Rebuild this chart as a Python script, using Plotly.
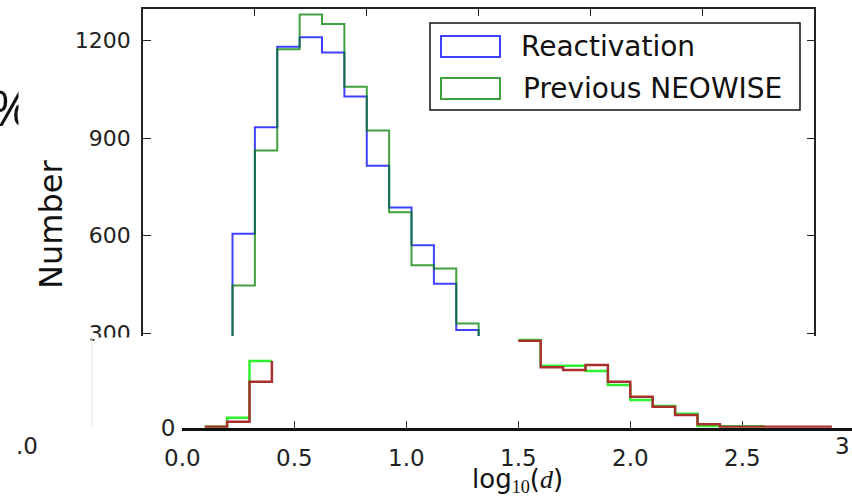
import plotly.graph_objects as go

W, H = 852, 497

def px(x):
    return x / W

def py(y):
    return 1 - y / H

# ---------------- data ----------------
# upper histogram (bin width 0.1), visible bins only (values below ~300 are cut off)
top_edges = [0.4, 0.5, 0.6, 0.7, 0.8, 0.9, 1.0, 1.1, 1.2, 1.3, 1.4, 1.5]
reactivation = [606, 933, 1181, 1210, 1163, 1028, 815, 687, 571, 452, 310]
previous_neowise = [447, 862, 1173, 1280, 1251, 1058, 923, 672, 509, 499, 330]

# lower strip histogram (arbitrary count units), two visible pieces
strip_left_edges = [0.1, 0.2, 0.3, 0.4]
strip_green_left = [1.0, 10.9, 72.7]
strip_red_left = [1.0, 6.5, 50.2]

strip_green_right_edges = [1.5, 1.6, 1.7, 1.8, 1.9, 2.0, 2.1, 2.2, 2.3, 2.4, 2.5, 2.6]
strip_green_right = [95.6, 67.6, 67.6, 61.8, 46.6, 30.2, 23.7, 15.3, 1.9, 1.5, 1.5]
strip_red_right_edges = [1.5, 1.6, 1.7, 1.8, 1.9, 2.0, 2.1, 2.2, 2.3, 2.4, 2.5, 2.6, 2.7, 2.8, 2.9]
strip_red_right = [94.9, 65.9, 62.9, 68.4, 50.2, 33.8, 22.9, 13.8, 3.7, 1.0, 1.0, 1.0, 1.0, 1.0]

top_yticks = [300, 600, 900, 1200]
strip_xticks = [0.0, 0.5, 1.0, 1.5, 2.0, 2.5]
strip_xtick_text = ["0.0", "0.5", "1.0", "1.5", "2.0", "2.5"]

BLUE = "rgba(0,0,255,0.75)"
GREEN = "rgba(0,128,0,0.75)"
LIME = "#2ef02e"
RED = "#a8302e"
FONT = "DejaVu Sans"

fig = go.Figure()

def step_trace(edges, vals, color, width, xa, ya, start0=True, end0=True):
    xs = list(edges)
    ys = list(vals) + [vals[-1]]
    if start0:
        xs = [edges[0]] + xs
        ys = [0] + ys
    if end0:
        xs = xs + [edges[-1]]
        ys = ys + [0]
    return go.Scatter(x=xs, y=ys, mode="lines", line=dict(color=color, width=width, shape="hv"),
                      xaxis=xa, yaxis=ya, showlegend=False, hoverinfo="skip")

fig.add_trace(step_trace(top_edges, reactivation, BLUE, 2, "x", "y"))
fig.add_trace(step_trace(top_edges, previous_neowise, GREEN, 2, "x", "y"))

# strip: left piece
fig.add_trace(step_trace(strip_left_edges, strip_green_left, LIME, 2.5, "x2", "y2", start0=False, end0=False))
fig.add_trace(go.Scatter(
    x=strip_left_edges + [strip_left_edges[-1]],
    y=strip_red_left + [strip_red_left[-1], strip_green_left[-1]],
    mode="lines", line=dict(color=RED, width=2.5, shape="hv"),
    xaxis="x2", yaxis="y2", showlegend=False, hoverinfo="skip"))
# strip: right piece
fig.add_trace(step_trace(strip_green_right_edges, strip_green_right, LIME, 2.5, "x2", "y2", start0=False, end0=False))
fig.add_trace(step_trace(strip_red_right_edges, strip_red_right, RED, 2.5, "x2", "y2", start0=False, end0=False))

# ---------------- axes ----------------
y_top_px, y_bot_px = 9, 336
v1200_px, v300_px = 40.5, 333.3
scale = (v300_px - v1200_px) / 900.0
y_top_val = 1200 + (v1200_px - y_top_px) / scale
y_bot_val = 300 - (y_bot_px - v300_px) / scale

fig.update_layout(
    width=W, height=H, autosize=False,
    margin=dict(l=0, r=0, t=0, b=0, pad=0),
    paper_bgcolor="white", plot_bgcolor="white",
    font=dict(family=FONT, color="#222"),
    xaxis=dict(domain=[px(143), px(814.3)], range=[0, 3], anchor="y", side="top", automargin=False,
               showline=True, linecolor="#222", linewidth=1.5, mirror=False,
               ticks="inside", ticklen=7, tickcolor="#222", tickwidth=1,
               tickvals=[0.5, 1.0, 1.5, 2.0, 2.5], showticklabels=False,
               showgrid=False, zeroline=False),
    yaxis=dict(domain=[py(y_bot_px), py(y_top_px)], range=[y_bot_val, y_top_val], anchor="x", automargin=False,
               showline=True, linecolor="#222", linewidth=1.5, mirror="ticks",
               ticks="inside", ticklen=8, tickcolor="#222", tickwidth=1,
               tickvals=top_yticks, tickfont=dict(size=22, color="#222"),
               ticklabelstandoff=6, showgrid=False, zeroline=False),
    xaxis2=dict(domain=[px(182.3), 1.0], range=[0, (W - 182.3) / 224.0], anchor="y2", automargin=False,
                showline=True, linecolor="#111", linewidth=2.5, layer="below traces",
                ticks="inside", ticklen=7, tickcolor="#334", tickwidth=1,
                tickvals=strip_xticks, ticktext=strip_xtick_text,
                tickfont=dict(size=23, color="#222"), ticklabelstandoff=8,
                showgrid=False, zeroline=False),
    yaxis2=dict(domain=[py(427.7), py(336)], range=[0, 100], anchor="x2", automargin=False,
                showline=False, ticks="", tickvals=[0], ticktext=["0"],
                tickfont=dict(size=23, color="#222"), ticklabelstandoff=6,
                showgrid=False, zeroline=False),
)

shapes = []
# legend box and patches
shapes.append(dict(type="rect", xref="paper", yref="paper", x0=px(430), x1=px(800), y0=py(110), y1=py(23),
                   line=dict(color="#111", width=1.5), fillcolor="white", layer="above"))
shapes.append(dict(type="rect", xref="paper", yref="paper", x0=px(441), x1=px(500), y0=py(57), y1=py(36),
                   line=dict(color=BLUE, width=2), fillcolor="rgba(0,0,0,0)", layer="above"))
shapes.append(dict(type="rect", xref="paper", yref="paper", x0=px(441), x1=px(500), y0=py(99), y1=py(78),
                   line=dict(color=GREEN, width=2), fillcolor="rgba(0,0,0,0)", layer="above"))
# faint edge of the lower inset
shapes.append(dict(type="line", xref="paper", yref="paper", x0=px(92), x1=px(92), y0=py(336), y1=py(427),
                   line=dict(color="#e4e4e4", width=1), layer="above"))
fig.update_layout(shapes=shapes)

ann = []
ann.append(dict(text="Reactivation", x=px(519), y=py(47), xref="paper", yref="paper",
                xanchor="left", yanchor="middle", showarrow=False, font=dict(size=28, color="#111")))
ann.append(dict(text="Previous NEOWISE", x=px(521), y=py(89), xref="paper", yref="paper",
                xanchor="left", yanchor="middle", showarrow=False, font=dict(size=28, color="#111")))
ann.append(dict(text="Number", x=px(51), y=py(225), xref="paper", yref="paper", textangle=-90,
                xanchor="center", yanchor="middle", showarrow=False, font=dict(size=32, color="#111")))
ann.append(dict(text="log<sub><span style='font-family:Liberation Serif'>10</span></sub>(<i><span style='font-family:Liberation Serif'>d</span></i>)",
                x=px(517), y=py(480), xref="paper", yref="paper",
                xanchor="center", yanchor="middle", showarrow=False, font=dict(size=26, color="#111")))
ann.append(dict(text="3.0", x=px(854), y=py(446), xref="paper", yref="paper",
                xanchor="center", yanchor="middle", showarrow=False, font=dict(size=23, color="#222")))
ann.append(dict(text=".0", x=px(40), y=py(446), xref="paper", yref="paper",
                xanchor="right", yanchor="middle", showarrow=False, font=dict(size=23, color="#222")))
ann.append(dict(text="%", x=px(10), y=py(107), xref="paper", yref="paper",
                xanchor="center", yanchor="middle", showarrow=False,
                font=dict(size=50, color="#111", family="Open Sans")))
# white masks that cut partially hidden text
ann.append(dict(text=" ", x=px(17.5), y=py(107), xref="paper", yref="paper", xanchor="left", yanchor="middle",
                showarrow=False, bgcolor="white", width=50, height=70, borderpad=0))
ann.append(dict(text=" ", x=px(94), y=py(336.5), xref="paper", yref="paper", xanchor="left", yanchor="top",
                showarrow=False, bgcolor="white", width=46, height=14, borderpad=0))
fig.update_layout(annotations=ann)

fig.write_html("out.html", config={"displayModeBar": False},
               post_script="document.body.style.margin='0';document.body.style.overflow='hidden';")
